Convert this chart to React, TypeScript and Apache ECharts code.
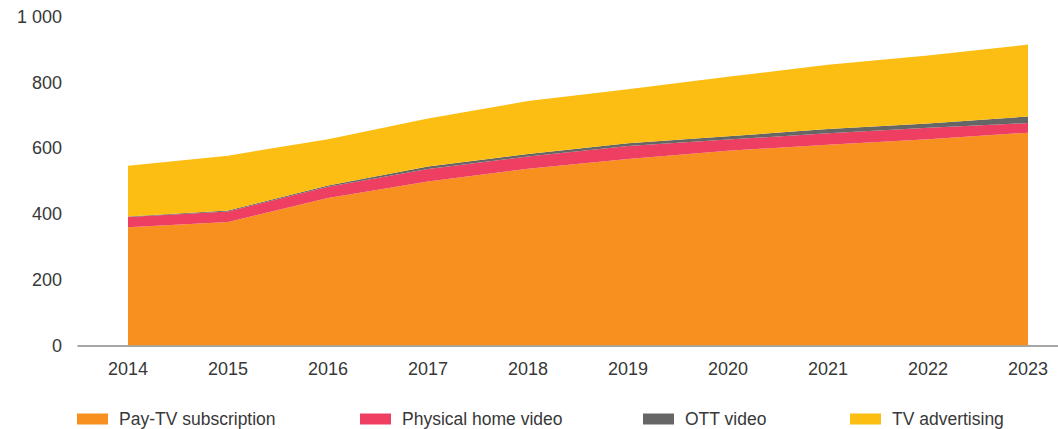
import React, { useEffect, useRef } from "react";
import * as echarts from "echarts";

const years = ["2014", "2015", "2016", "2017", "2018", "2019", "2020", "2021", "2022", "2023"];
const payTv = [360, 376, 449, 499, 538, 568, 593, 611, 628, 648];
const physical = [31, 32, 34, 38, 37, 39, 34, 35, 35, 29];
const ott = [2, 3, 4, 8, 8, 9, 10, 13, 13, 20];
const tvAd = [154, 167, 141, 146, 161, 164, 181, 196, 207, 219];
const yTicks = [0, 200, 400, 600, 800, 1000];

const seriesNames = ["Pay-TV subscription", "Physical home video", "OTT video", "TV advertising"];
const seriesColors = ["#F7901E", "#EE3F62", "#666666", "#FCBE12"];
const seriesData = [payTv, physical, ott, tvAd];
const legendLefts = [77, 360, 643, 850];

const FONT = "'Liberation Sans', Arial, Helvetica, sans-serif";
const TEXT = "#383838";

export default function App() {
  const ref = useRef<HTMLDivElement>(null);
  useEffect(() => {
    if (!ref.current) return;
    const chart = echarts.init(ref.current, null, { renderer: "svg" });
    const yMax = yTicks[yTicks.length - 1];
    const yStep = yTicks[1] - yTicks[0];
    chart.setOption({
      animation: false,
      textStyle: { fontFamily: FONT },
      grid: [
        { left: 128, top: 17, width: 900, height: 328.5, containLabel: false },
        { left: 78, top: 17, right: 0, height: 328.5, containLabel: false },
      ],
      legend: seriesNames.map((n, i) => ({
        data: [n],
        left: legendLefts[i],
        top: 410,
        padding: 0,
        icon: "rect",
        itemWidth: 31,
        itemHeight: 11,
        selectedMode: false,
        textStyle: { fontSize: 17.5, color: TEXT, fontFamily: FONT, padding: [0, 0, 0, 6] },
      })),
      xAxis: [
        {
          type: "category",
          gridIndex: 0,
          data: years,
          boundaryGap: false,
          axisLine: { show: false },
          axisTick: { show: false },
          axisLabel: { fontSize: 18, color: TEXT, margin: 14, fontFamily: FONT },
          splitLine: { show: false },
        },
        {
          type: "value",
          gridIndex: 1,
          min: 0,
          max: 1,
          axisLine: { show: true, onZero: true, lineStyle: { color: "#888", width: 1.5 } },
          axisTick: { show: false },
          axisLabel: { show: false },
          splitLine: { show: false },
        },
      ],
      yAxis: [
        {
          type: "value",
          gridIndex: 0,
          min: 0,
          max: yMax,
          interval: yStep,
          axisLine: { show: false },
          axisTick: { show: false },
          axisLabel: { show: false },
          splitLine: { show: false },
        },
        {
          type: "value",
          gridIndex: 1,
          min: 0,
          max: yMax,
          interval: yStep,
          axisLine: { show: false },
          axisTick: { show: false },
          splitLine: { show: false },
          axisLabel: {
            fontSize: 18,
            color: TEXT,
            margin: 16,
            fontFamily: FONT,
            formatter: (v: number) => String(v).replace(/\B(?=(\d{3})+(?!\d))/g, " "),
          },
        },
      ],
      series: seriesNames.map((n, i) => ({
        name: n,
        type: "line",
        xAxisIndex: 0,
        yAxisIndex: 0,
        stack: "total",
        data: seriesData[i],
        symbol: "none",
        lineStyle: { width: 0 },
        itemStyle: { color: seriesColors[i] },
        areaStyle: { color: seriesColors[i], opacity: 1 },
        z: 2,
      })),
    });
    return () => chart.dispose();
  }, []);
  return (
    <div
      ref={ref}
      style={{ position: "fixed", left: 0, top: 0, width: 1058, height: 429, background: "#fff" }}
    />
  );
}
